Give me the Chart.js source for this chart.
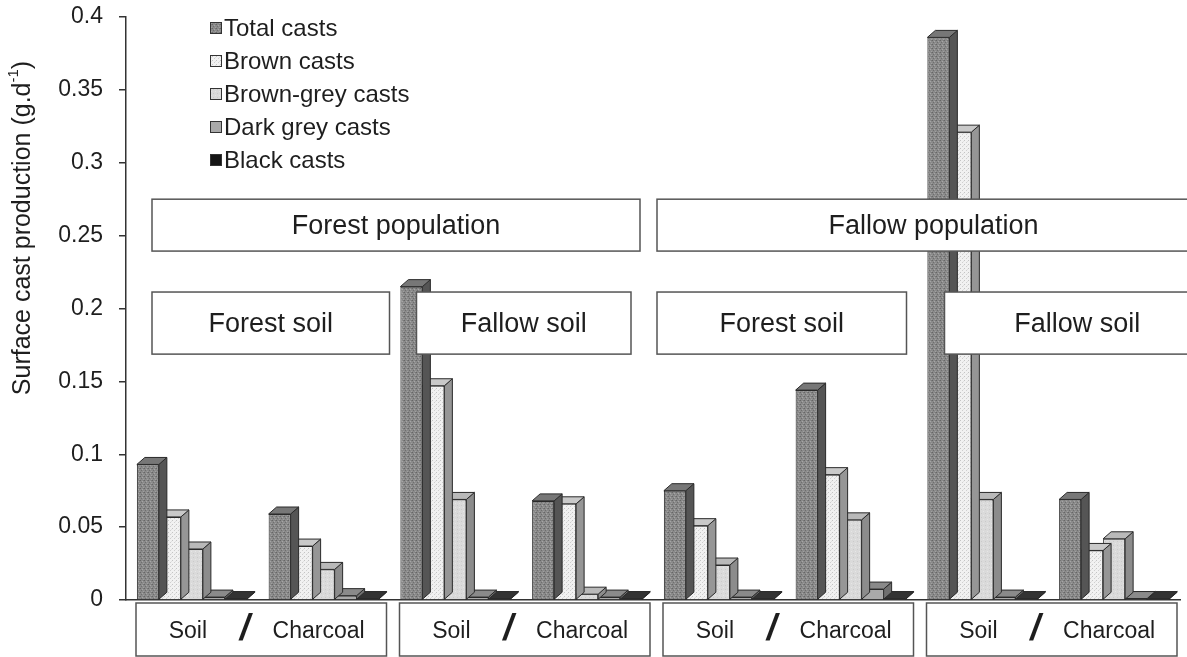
<!DOCTYPE html>
<html>
<head>
<meta charset="utf-8">
<script src="https://cdn.jsdelivr.net/npm/chart.js@4.4.0/dist/chart.umd.min.js"></script>
<style>
  html, body { margin: 0; background: #fff; }
  #wrap { width: 1187px; height: 657px; }
</style>
</head>
<body>
<div id="wrap"><canvas id="casts-chart" width="1187" height="657"></canvas></div>
<script>
// values (g per day)
const categories = ['Soil', 'Charcoal', 'Soil', 'Charcoal', 'Soil', 'Charcoal', 'Soil', 'Charcoal'];
const totalCasts = [0.093, 0.059, 0.215, 0.068, 0.075, 0.144, 0.386, 0.069];
const brownCasts = [0.057, 0.037, 0.147, 0.066, 0.051, 0.086, 0.321, 0.034];
const brownGreyCasts = [0.035, 0.021, 0.069, 0.004, 0.024, 0.055, 0.069, 0.042];
const darkGreyCasts = [0.002, 0.003, 0.002, 0.002, 0.002, 0.0075, 0.002, 0.001];
const blackCasts = [0.001, 0.001, 0.001, 0.001, 0.001, 0.001, 0.001, 0.001];
const yTickValues = [0, 0.05, 0.1, 0.15, 0.2, 0.25, 0.3, 0.35, 0.4];
const seriesNames = ['Total casts', 'Brown casts', 'Brown-grey casts', 'Dark grey casts', 'Black casts'];
const populationLabels = ['Forest population', 'Fallow population'];
const soilLabels = ['Forest soil', 'Fallow soil', 'Forest soil', 'Fallow soil'];

const FONT = "'Liberation Sans', Arial, sans-serif";
Chart.defaults.font.family = FONT;
Chart.defaults.color = '#1e1e1e';

const canvas = document.getElementById('casts-chart');
const ctx = canvas.getContext('2d');

// small fixed stipple textures for the front faces
function makePattern(base, dots) {
  const c = document.createElement('canvas');
  c.width = 4; c.height = 4;
  const g = c.getContext('2d');
  g.fillStyle = base;
  g.fillRect(0, 0, 4, 4);
  dots.forEach(d => { g.fillStyle = d[2]; g.fillRect(d[0], d[1], 1, 1); });
  return ctx.createPattern(c, 'repeat');
}

const fronts = [
  makePattern('#8a8a8a', [[0, 0, '#666666'], [2, 1, '#a6a6a6'], [1, 2, '#6e6e6e'], [3, 3, '#a0a0a0'], [3, 0, '#787878']]),
  makePattern('#f1f1f1', [[0, 0, '#c4c4c4'], [2, 2, '#cfcfcf'], [3, 1, '#e0e0e0']]),
  makePattern('#dadada', [[1, 1, '#cacaca'], [3, 3, '#e6e6e6']]),
  '#a9a9a9',
  '#151515'
];
const sides = ['#555555', '#969696', '#8c8c8c', '#707070', '#000000'];
const tops = ['#777777', '#c9c9c9', '#b9b9b9', '#8a8a8a', '#333333'];
const DX = 8, DY = 7;

const seriesValues = [totalCasts, brownCasts, brownGreyCasts, darkGreyCasts, blackCasts];

// side and top faces, drawn just before each dataset's front faces
const bars3d = {
  id: 'bars3d',
  beforeDatasetDraw(chart, args) {
    const c = chart.ctx;
    const i = args.index;
    c.save();
    c.lineWidth = 1;
    c.strokeStyle = '#2a2a2a';
    args.meta.data.forEach(bar => {
      const p = bar.getProps(['x', 'y', 'base', 'width'], true);
      const l = p.x - p.width / 2, r = p.x + p.width / 2;
      c.beginPath();
      c.moveTo(r, p.y); c.lineTo(r + DX, p.y - DY);
      c.lineTo(r + DX, p.base - DY); c.lineTo(r, p.base);
      c.closePath();
      c.fillStyle = sides[i]; c.fill(); c.stroke();
      c.beginPath();
      c.moveTo(l, p.y); c.lineTo(l + DX, p.y - DY);
      c.lineTo(r + DX, p.y - DY); c.lineTo(r, p.y);
      c.closePath();
      c.fillStyle = tops[i]; c.fill(); c.stroke();
    });
    c.restore();
  }
};

function box(c, x1, y1, x2, y2, text, size) {
  c.fillStyle = '#fff';
  c.fillRect(x1, y1, x2 - x1, y2 - y1);
  c.strokeStyle = '#555';
  c.lineWidth = 1.5;
  c.strokeRect(x1, y1, x2 - x1, y2 - y1);
  if (text) {
    c.fillStyle = '#1e1e1e';
    c.font = size + 'px ' + FONT;
    c.textAlign = 'center';
    c.textBaseline = 'middle';
    c.fillText(text, (x1 + x2) / 2, (y1 + y2) / 2 + 1);
  }
}

const annotations = {
  id: 'annotations',
  afterDatasetsDraw(chart) {
    const c = chart.ctx;
    const xs = chart.scales.x, ys = chart.scales.y;
    const step = xs.getPixelForValue(1) - xs.getPixelForValue(0);
    const catL = k => xs.getPixelForValue(k) - step / 2;
    const catR = k => xs.getPixelForValue(k) + step / 2;
    c.save();

    // population boxes
    const popTop = ys.getPixelForValue(0.275), popBot = ys.getPixelForValue(0.2394);
    box(c, catL(0) + 26, popTop, catR(3) - 13, popBot, populationLabels[0], 27);
    box(c, catL(4) + 4, popTop, catR(7) + 30, popBot, populationLabels[1], 27);

    // soil boxes
    const soilTop = ys.getPixelForValue(0.2113), soilBot = ys.getPixelForValue(0.1687);
    box(c, catL(0) + 26, soilTop, catR(1), soilBot, soilLabels[0], 27);
    box(c, catL(2) + 27, soilTop, catR(3) - 22, soilBot, soilLabels[1], 27);
    box(c, catL(4) + 4, soilTop, catR(5) - 10, soilBot, soilLabels[2], 27);
    box(c, catL(6) + 28, soilTop, catR(7) + 30, soilBot, soilLabels[3], 27);

    // Soil / Charcoal boxes under the axis
    const bTop = xs.bottom - xs.height + 3, bBot = bTop + 53;
    for (let k = 0; k < categories.length; k += 2) {
      box(c, catL(k) + 10, bTop, catR(k + 1) - 3, bBot, '', 0);
      c.fillStyle = '#1e1e1e';
      c.font = '23px ' + FONT;
      c.textAlign = 'center';
      c.textBaseline = 'middle';
      c.fillText(categories[k], xs.getPixelForValue(k) - 4, bTop + 29);
      c.fillText(categories[k + 1], xs.getPixelForValue(k + 1) - 5, bTop + 29);
      c.font = 'italic bold 36px ' + FONT;
      c.fillText('/', catR(k) - 13, bTop + 27);
    }

    // legend
    c.font = '24px ' + FONT;
    c.textAlign = 'left';
    c.textBaseline = 'middle';
    seriesNames.forEach((name, i) => {
      const y = 28 + i * 33;
      c.fillStyle = fronts[i];
      c.fillRect(210, y - 6, 11, 11);
      c.strokeStyle = '#333';
      c.lineWidth = 1;
      c.strokeRect(210.5, y - 5.5, 11, 11);
      c.fillStyle = '#1e1e1e';
      c.fillText(name, 224, y + 1);
    });

    // y axis title with superscript
    c.translate(23, 228);
    c.rotate(-Math.PI / 2);
    const main = 'Surface cast production (g.d';
    c.font = '25px ' + FONT;
    const w1 = c.measureText(main).width;
    c.font = '15px ' + FONT;
    const w2 = c.measureText('-1').width;
    c.font = '25px ' + FONT;
    const w3 = c.measureText(')').width;
    let x = -(w1 + w2 + w3) / 2;
    c.fillStyle = '#1e1e1e';
    c.textAlign = 'left';
    c.textBaseline = 'middle';
    c.fillText(main, x, 0);
    x += w1;
    c.font = '15px ' + FONT;
    c.fillText('-1', x, -9);
    x += w2;
    c.font = '25px ' + FONT;
    c.fillText(')', x, 0);
    c.restore();
  }
};

const datasets = seriesNames.map((name, i) => ({
  label: name,
  data: seriesValues[i],
  backgroundColor: fronts[i],
  borderColor: '#2a2a2a',
  borderWidth: 1,
  categoryPercentage: 0.835,
  barPercentage: 1.0
}));

new Chart(ctx, {
  type: 'bar',
  data: { labels: categories, datasets: datasets },
  plugins: [bars3d, annotations],
  options: {
    responsive: false,
    animation: false,
    layout: { padding: { top: 17, right: 7, left: 0, bottom: 0 } },
    plugins: { legend: { display: false }, tooltip: { enabled: false } },
    scales: {
      x: {
        grid: { display: false },
        ticks: { display: false },
        border: { display: true, color: '#333', width: 1.5 },
        afterFit(scale) { scale.height = 57; }
      },
      y: {
        min: 0,
        max: 0.4,
        afterBuildTicks(scale) { scale.ticks = yTickValues.map(v => ({ value: v })); },
        ticks: {
          padding: 16,
          font: { size: 23 },
          color: '#1e1e1e',
          callback: v => String(+v.toFixed(2))
        },
        grid: { drawOnChartArea: false, drawTicks: true, tickLength: 7, color: '#333', lineWidth: 1.5 },
        border: { display: true, color: '#333', width: 1.5 },
        afterFit(scale) {
          scale.width = 126;
          scale.paddingTop = 0;
          scale.paddingBottom = 0;
        }
      }
    }
  }
});
</script>
</body>
</html>
